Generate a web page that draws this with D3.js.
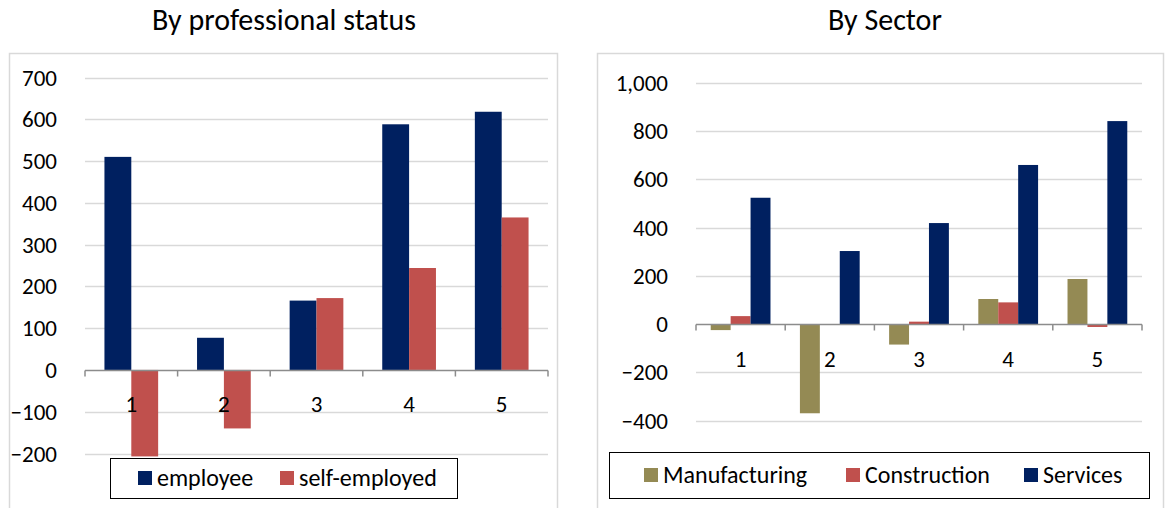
<!DOCTYPE html>
<head>
  <meta charset="utf-8">
  <script src="https://d3js.org/d3.v7.min.js"></script>
  <style>
    body { margin:0; padding:0; background:#fff; }
    text { font-family: Carlito, Calibri, Lato, sans-serif; fill:#000; }
  </style>
</head>
<body>
  <svg id="chart" width="1165" height="508"></svg>
  <script>
    // data
    var categories = ["1", "2", "3", "4", "5"];

    var statusSeries = ["employee", "self-employed"];
    var employee     = [510, 77, 166, 588, 618];
    var selfEmployed = [-207, -140, 172, 244, 365];
    var statusTicks  = [-200, -100, 0, 100, 200, 300, 400, 500, 600, 700];

    var sectorSeries  = ["Manufacturing", "Construction", "Services"];
    var manufacturing = [-25, -370, -85, 104, 187];
    var construction  = [33, 0, 10, 90, -12];
    var services      = [524, 303, 419, 660, 842];
    var sectorTicks   = [-400, -200, 0, 200, 400, 600, 800, 1000];

    var navy = "#002060", red = "#c0504d", olive = "#948a54";

    var svg = d3.select("#chart");

    function panel(opt) {
      var g = svg.append("g");

      // outer frame
      g.append("rect")
        .attr("x", opt.box[0] + 0.5).attr("y", opt.box[1] + 0.5)
        .attr("width", opt.box[2]).attr("height", opt.box[3])
        .attr("fill", "none").attr("stroke", "#d9d9d9").attr("stroke-width", 1.5);

      g.append("text")
        .attr("x", opt.titleX).attr("y", 30)
        .attr("text-anchor", "middle")
        .style("font-size", "30px")
        .text(opt.title);

      var x = d3.scaleBand().domain(categories).range(opt.xr);
      var y = d3.scaleLinear().domain(opt.yd).range(opt.yr);

      // gridlines
      g.append("g").selectAll("line").data(opt.ticks.filter(function(t){ return t !== 0; }))
        .join("line")
        .attr("x1", opt.xr[0]).attr("x2", opt.xr[1])
        .attr("y1", function(d){ return Math.round(y(d)) + 0.5; })
        .attr("y2", function(d){ return Math.round(y(d)) + 0.5; })
        .attr("stroke", "#d9d9d9").attr("stroke-width", 1.5);

      // y labels
      var fmt = d3.format(",");
      g.append("g").selectAll("text").data(opt.ticks)
        .join("text")
        .attr("x", opt.labelX)
        .attr("y", function(d){ return y(d) + 8; })
        .attr("text-anchor", "end")
        .style("font-size", "23px")
        .text(function(d){ return fmt(d); });

      // bars
      var inner = d3.scaleBand().domain(d3.range(opt.values.length))
        .range([0, x.bandwidth() * opt.fill]);
      var off = x.bandwidth() * (1 - opt.fill) / 2;
      opt.values.forEach(function(vals, si) {
        g.append("g").selectAll("rect").data(vals)
          .join("rect")
          .attr("x", function(d, i){ return x(categories[i]) + off + inner(si); })
          .attr("width", inner.bandwidth())
          .attr("y", function(d){ return y(Math.max(0, d)); })
          .attr("height", function(d){ return Math.abs(y(d) - y(0)); })
          .attr("fill", opt.colors[si]);
      });

      // category axis
      var y0 = Math.round(y(0)) + 0.5;
      g.append("line")
        .attr("x1", opt.xr[0]).attr("x2", opt.xr[1])
        .attr("y1", y0).attr("y2", y0)
        .attr("stroke", "#8c8c8c").attr("stroke-width", 1.5);
      var bounds = categories.map(function(c){ return x(c); }).concat([opt.xr[1]]);
      g.append("g").selectAll("line").data(bounds)
        .join("line")
        .attr("x1", function(d){ return d; }).attr("x2", function(d){ return d; })
        .attr("y1", y0).attr("y2", y0 + 6)
        .attr("stroke", "#8c8c8c").attr("stroke-width", 1.5);
      g.append("g").selectAll("text").data(categories)
        .join("text")
        .attr("x", function(d){ return x(d) + x.bandwidth() / 2; })
        .attr("y", y0 + opt.catDy)
        .attr("text-anchor", "middle")
        .style("font-size", "23px")
        .text(function(d){ return d; });

      // legend
      var lg = opt.legend;
      g.append("rect")
        .attr("x", lg.box[0] + 0.5).attr("y", lg.box[1] + 0.5)
        .attr("width", lg.box[2]).attr("height", lg.box[3])
        .attr("fill", "#fff").attr("stroke", "#000").attr("stroke-width", 1);
      opt.series.forEach(function(s, i) {
        g.append("rect")
          .attr("x", lg.items[i]).attr("y", lg.box[1] + lg.box[3] / 2 - 7)
          .attr("width", 14).attr("height", 14)
          .attr("fill", opt.colors[i]);
        g.append("text")
          .attr("x", lg.items[i] + 19).attr("y", lg.box[1] + lg.box[3] / 2 + 8)
          .style("font-size", "24px")
          .text(s);
      });
    }

    panel({
      box: [9, 53, 548, 470],
      title: "By professional status", titleX: 284,
      xr: [85, 548], yd: [-200, 700], yr: [453.5, 77.5],
      ticks: statusTicks, labelX: 57, catDy: 41, fill: 0.58,
      values: [employee, selfEmployed], series: statusSeries, colors: [navy, red],
      legend: { box: [110, 458, 347, 40], items: [138, 280] }
    });

    panel({
      box: [597, 53, 566, 470],
      title: "By Sector", titleX: 885,
      xr: [696, 1142], yd: [-400, 1000], yr: [420.5, 83],
      ticks: sectorTicks, labelX: 668, catDy: 42, fill: 0.67,
      values: [manufacturing, construction, services], series: sectorSeries,
      colors: [olive, red, navy],
      legend: { box: [609, 452, 540, 46], items: [644, 846, 1024] }
    });
  </script>
</body>
